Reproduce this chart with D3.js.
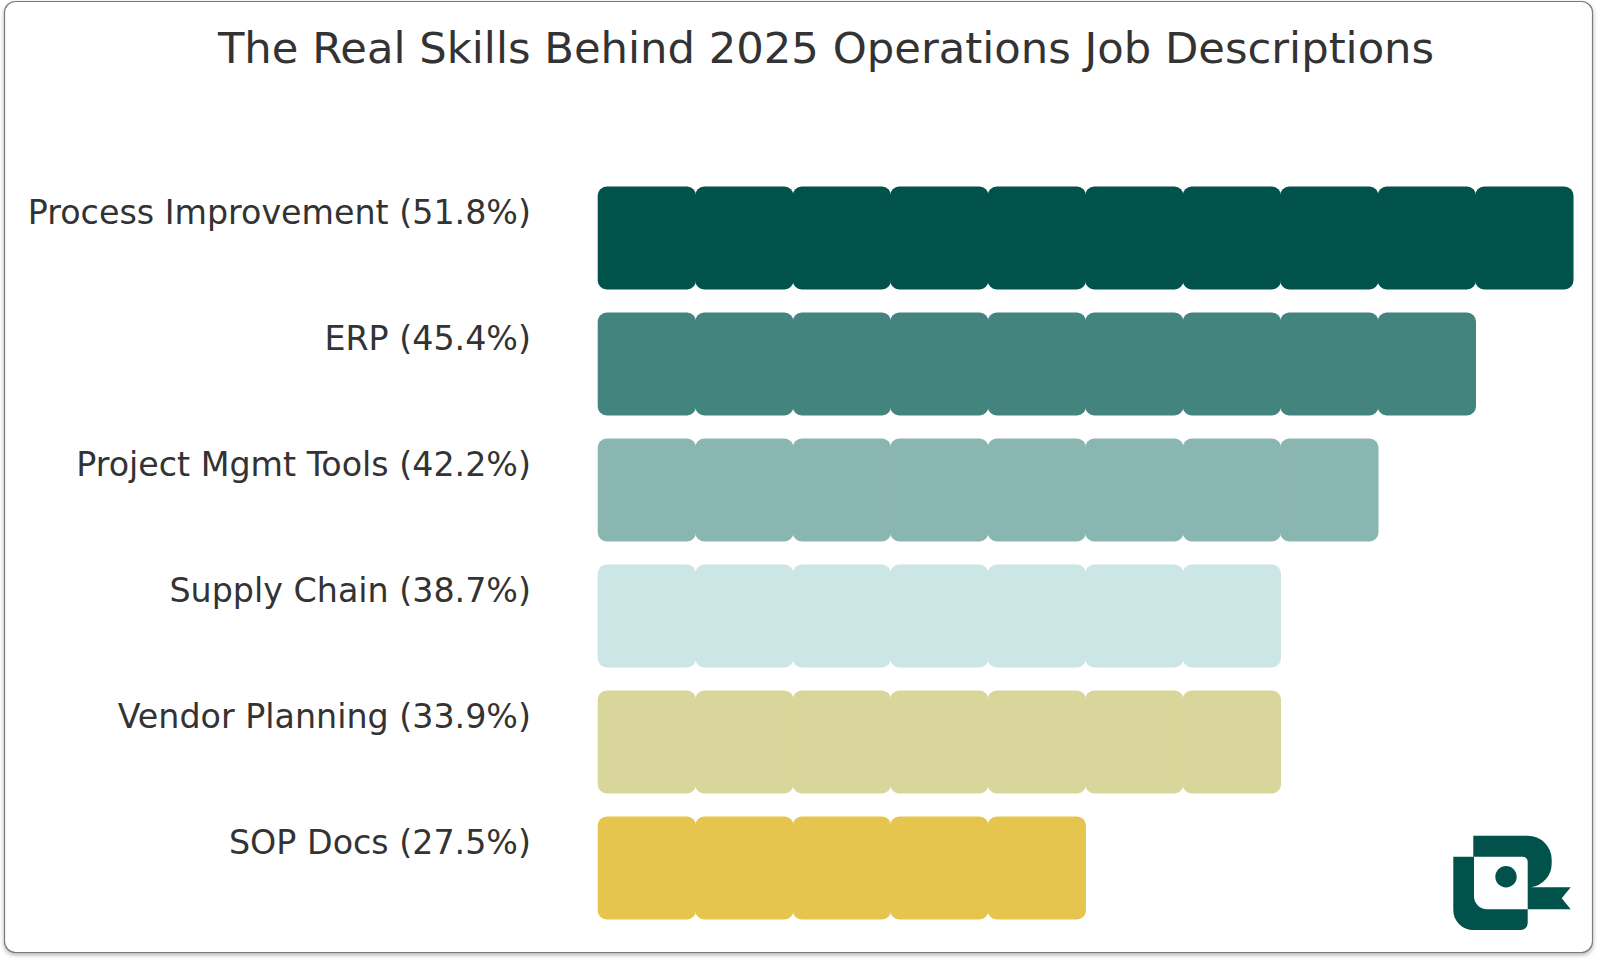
<!DOCTYPE html>
<html>
<head>
<meta charset="utf-8">
<script src="https://cdn.jsdelivr.net/npm/d3@7"></script>
<style>
  html, body { margin: 0; padding: 0; background: #ffffff; }
  svg { display: block; }
  text { font-family: "DejaVu Sans", sans-serif; }
</style>
</head>
<body>
<svg id="chart" width="1600" height="962"></svg>
<script>
const title = "The Real Skills Behind 2025 Operations Job Descriptions";
const categories = ["Process Improvement", "ERP", "Project Mgmt Tools", "Supply Chain", "Vendor Planning", "SOP Docs"];
const values = [51.8, 45.4, 42.2, 38.7, 33.9, 27.5];
const blocks = [10, 9, 8, 7, 7, 5];
const colors = ["#01524b", "#44847e", "#8ab6b2", "#cce6e5", "#d8d69a", "#e5c54d"];
const maxBlocks = 10;

const svg = d3.select("#chart");
const defs = svg.append("defs");
const f = defs.append("filter").attr("id", "shadow").attr("x", "-5%").attr("y", "-5%").attr("width", "110%").attr("height", "110%");
f.append("feDropShadow").attr("dx", 0).attr("dy", 2).attr("stdDeviation", 2).attr("flood-color", "#000").attr("flood-opacity", 0.3);

// card
svg.append("rect")
  .attr("x", 4.5).attr("y", 1.5).attr("width", 1588).attr("height", 951)
  .attr("rx", 11).attr("ry", 11)
  .attr("fill", "#ffffff").attr("stroke", "#7a7a7a").attr("stroke-width", 1.2)
  .attr("filter", "url(#shadow)");

// title
svg.append("text")
  .attr("x", 826).attr("y", 63.3)
  .attr("text-anchor", "middle")
  .attr("font-size", 43.3).attr("fill", "#333333")
  .text(title);

const y = d3.scaleBand().domain(categories).range([175, 931]).paddingInner(0.183).paddingOuter(0.0915);
const x = d3.scaleLinear().domain([0, maxBlocks]).range([597.7, 1572.7]);
const step = x(1) - x(0);

const rows = svg.append("g").selectAll("g").data(categories).join("g")
  .attr("transform", d => `translate(0,${y(d)})`);

rows.each(function(d, i) {
  const g = d3.select(this);
  g.selectAll("rect").data(d3.range(blocks[i])).join("rect")
    .attr("x", k => x(k))
    .attr("y", 0)
    .attr("width", step + 0.8)
    .attr("height", y.bandwidth())
    .attr("rx", 9).attr("ry", 9)
    .attr("fill", colors[i]);
  g.append("text")
    .attr("x", 531).attr("y", 37.2)
    .attr("text-anchor", "end")
    .attr("font-size", 33.3).attr("fill", "#333333")
    .text(`${d} (${values[i]}%)`);
});

// logo
const logo = svg.append("g").attr("fill", "#01524b");
// upper hook
logo.append("path").attr("d",
  "M1473.3,835.7 H1527.7 A24,24 0 0 1 1551.7,859.7 V863.7 A24,24 0 0 1 1531,887.3 H1570.7 L1561.7,898.3 L1570.7,909.3 H1527.7 V861.7 A5,5 0 0 0 1522.7,856.7 H1473.3 Z");
// lower U
logo.append("path").attr("d",
  "M1453.3,856.7 H1474 V896.3 A13,13 0 0 0 1487,909.3 H1527.7 V923 A7,7 0 0 1 1520.7,930 H1473.3 A20,20 0 0 1 1453.3,910 Z");
// dot
logo.append("circle").attr("cx", 1506).attr("cy", 876.7).attr("r", 10.7);
</script>
</body>
</html>
